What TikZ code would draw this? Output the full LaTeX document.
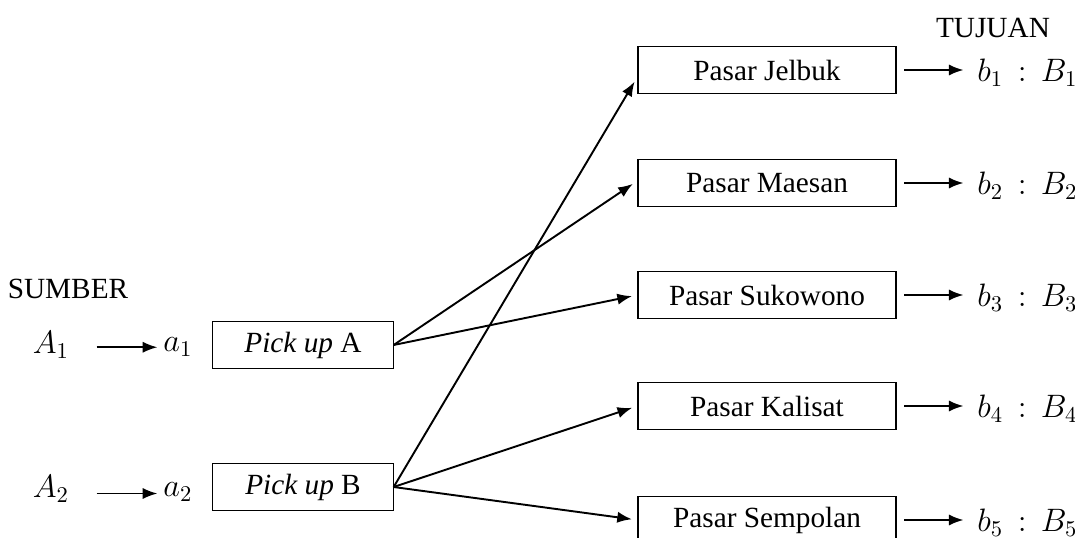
\documentclass[tikz,border=0pt]{standalone}
\usepackage{fontspec}
\setmainfont{Liberation Serif}[ItalicFont={Liberation Serif Italic}]
\usetikzlibrary{arrows.meta}
\begin{document}
\begin{tikzpicture}
  [x=0.444pt,y=-0.444pt,
  every node/.style={font=\fontsize{13}{15}\selectfont},
  box/.style={draw,line width=0.5pt,minimum width=114.5pt,minimum height=20.9pt,inner sep=0pt},
  pbox/.style={box,minimum width=80pt},
  lbl/.style={inner sep=0pt,font=\fontsize{14}{16}\selectfont},
  arr/.style={-{Latex[length=6.5pt,width=5pt]},line width=0.85pt}]
  \def\xbox{767}
  \useasboundingbox (0,0) rectangle (1075,538);
  % judul
  \node[inner sep=0pt] (sumber) at (68,289) {SUMBER};
  \node[inner sep=0pt] (tujuan) at (993,28) {TUJUAN};
  % sumber dan pick up
  \node[lbl] (A1) at (51,345) {$A_1$};
  \node[lbl,anchor=west] (a1) at (163,347) {$a_1$};
  \node[lbl] (A2) at (51,489) {$A_2$};
  \node[lbl,anchor=west] (a2) at (163,492) {$a_2$};
  \node[pbox] (pa) at (303,345) {\textit{Pick up} A};
  \node[pbox] (pb) at (303,487) {\textit{Pick up} B};
  \draw[arr,shorten <=12pt,shorten >=2.5pt] ([yshift=-1pt]A1.east) -- ([yshift=-1pt]A1.east-|a1.west);
  \draw[arr,shorten <=12pt,shorten >=2.5pt] ([yshift=-2pt]A2.east) -- ([yshift=-2pt]A2.east-|a2.west);
  % pasar tujuan
  \foreach \nm/\txt/\y/\i in {jel/Jelbuk/70/1,mae/Maesan/183/2,suk/Sukowono/295/3,kal/Kalisat/406/4,sem/Sempolan/520/5}{
    \node[box] (\nm) at (\xbox,\y) {Pasar \txt};
    \node[lbl,anchor=west] (b\i) at (977,\y+3) {$b_{\i}\,:\,B_{\i}$};
    \draw[arr,shorten <=3.5pt,shorten >=6pt] (\nm.east) -- (\nm.east-|b\i.west);
  }
  % rute
  \draw[arr,shorten >=2.5pt] (pa.east) -- ([yshift=1pt]mae.west);
  \draw[arr,shorten >=2.5pt] (pa.east) -- (suk.west);
  \draw[arr,shorten >=2.5pt] (pb.east) -- ([yshift=-3pt]jel.west);
  \draw[arr,shorten >=2.5pt] (pb.east) -- (kal.west);
  \draw[arr,shorten >=2.5pt] (pb.east) -- (sem.west);
\end{tikzpicture}
\end{document}
